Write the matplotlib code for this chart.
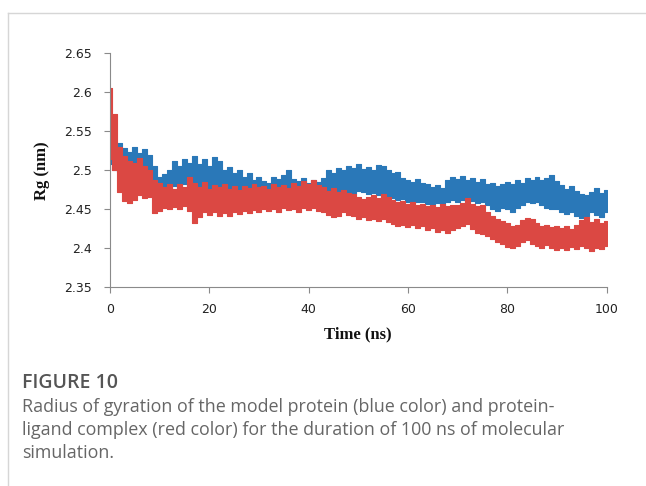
import matplotlib
matplotlib.use('Agg')
import matplotlib.pyplot as plt
from matplotlib.lines import Line2D
import numpy as np

# time in ns, envelopes of the Rg trace (nm)
time_ns = list(range(0, 101))

protein_hi = [
    2.518, 2.528, 2.535, 2.528, 2.524, 2.530, 2.522, 2.527, 2.520, 2.505,
    2.492, 2.495, 2.500, 2.512, 2.506, 2.515, 2.510, 2.518, 2.508, 2.514,
    2.506, 2.517, 2.512, 2.500, 2.504, 2.496, 2.500, 2.492, 2.497, 2.488,
    2.492, 2.486, 2.484, 2.492, 2.489, 2.494, 2.500, 2.489, 2.486, 2.490,
    2.484, 2.488, 2.485, 2.490, 2.500, 2.497, 2.503, 2.500, 2.506, 2.503,
    2.508, 2.502, 2.504, 2.500, 2.507, 2.505, 2.500, 2.496, 2.498, 2.490,
    2.488, 2.485, 2.489, 2.484, 2.482, 2.478, 2.481, 2.477, 2.488, 2.491,
    2.489, 2.493, 2.487, 2.490, 2.485, 2.489, 2.483, 2.484, 2.480, 2.483,
    2.485, 2.482, 2.487, 2.484, 2.490, 2.488, 2.492, 2.487, 2.490, 2.494,
    2.486, 2.481, 2.476, 2.480, 2.474, 2.470, 2.468, 2.472, 2.477, 2.471,
    2.475]

protein_lo = [
    2.508, 2.500, 2.498, 2.495, 2.492, 2.494, 2.490, 2.492, 2.488, 2.478,
    2.470, 2.472, 2.474, 2.480, 2.476, 2.482, 2.478, 2.484, 2.476, 2.480,
    2.475, 2.482, 2.478, 2.470, 2.472, 2.468, 2.470, 2.466, 2.468, 2.462,
    2.465, 2.462, 2.460, 2.465, 2.463, 2.466, 2.470, 2.463, 2.461, 2.464,
    2.460, 2.462, 2.460, 2.463, 2.468, 2.466, 2.470, 2.468, 2.472, 2.470,
    2.474, 2.472, 2.470, 2.471, 2.468, 2.466, 2.467, 2.465, 2.462, 2.463,
    2.460, 2.461, 2.459, 2.460, 2.457, 2.456, 2.458, 2.455, 2.460, 2.462,
    2.460, 2.462, 2.459, 2.461, 2.458, 2.460, 2.455, 2.451, 2.448, 2.452,
    2.450, 2.447, 2.452, 2.455, 2.460, 2.458, 2.460, 2.455, 2.452, 2.450,
    2.451, 2.447, 2.444, 2.446, 2.441, 2.439, 2.442, 2.447, 2.443, 2.440,
    2.446]

complex_hi = [
    2.605, 2.572, 2.530, 2.518, 2.512, 2.510, 2.516, 2.506, 2.500, 2.487,
    2.484, 2.478, 2.483, 2.476, 2.482, 2.478, 2.492, 2.484, 2.478, 2.485,
    2.476, 2.481, 2.478, 2.483, 2.476, 2.480, 2.475, 2.480, 2.477, 2.482,
    2.478, 2.480, 2.476, 2.482, 2.478, 2.481, 2.477, 2.484, 2.480, 2.486,
    2.482, 2.487, 2.481, 2.478, 2.474, 2.477, 2.472, 2.475, 2.471, 2.470,
    2.466, 2.463, 2.466, 2.468, 2.465, 2.469, 2.466, 2.462, 2.459, 2.461,
    2.457, 2.459, 2.455, 2.457, 2.454, 2.456, 2.453, 2.457, 2.454, 2.456,
    2.455, 2.458, 2.464, 2.457, 2.454, 2.456, 2.447, 2.442, 2.438, 2.435,
    2.432, 2.428, 2.430, 2.436, 2.439, 2.437, 2.432, 2.428, 2.430, 2.427,
    2.429, 2.426, 2.428, 2.425, 2.430, 2.436, 2.440, 2.434, 2.437, 2.432,
    2.435]

complex_lo = [
    2.515, 2.500, 2.472, 2.461, 2.458, 2.462, 2.468, 2.464, 2.466, 2.445,
    2.448, 2.452, 2.450, 2.453, 2.451, 2.454, 2.448, 2.432, 2.440, 2.446,
    2.443, 2.447, 2.442, 2.445, 2.441, 2.446, 2.444, 2.448, 2.445, 2.449,
    2.446, 2.450, 2.448, 2.451, 2.447, 2.452, 2.449, 2.451, 2.447, 2.452,
    2.449, 2.452, 2.448, 2.446, 2.443, 2.440, 2.442, 2.446, 2.443, 2.441,
    2.438, 2.440, 2.436, 2.438, 2.435, 2.438, 2.434, 2.431, 2.428, 2.430,
    2.427, 2.430, 2.426, 2.428, 2.424, 2.426, 2.421, 2.424, 2.420, 2.423,
    2.426, 2.429, 2.431, 2.425, 2.420, 2.418, 2.416, 2.412, 2.408, 2.405,
    2.402, 2.400, 2.403, 2.408, 2.410, 2.406, 2.403, 2.400, 2.404, 2.401,
    2.398, 2.401, 2.398, 2.402, 2.399, 2.403, 2.400, 2.397, 2.401, 2.399,
    2.403]

yticks = [2.35, 2.40, 2.45, 2.50, 2.55, 2.60, 2.65]
ytick_labels = ['2.35', '2.4', '2.45', '2.5', '2.55', '2.6', '2.65']
xticks = [0, 20, 40, 60, 80, 100]

caption_title = 'FIGURE 10'
caption_lines = [
    'Radius of gyration of the model protein (blue color) and protein-',
    'ligand complex (red color) for the duration of 100 ns of molecular',
    'simulation.',
]

W, H = 646, 486
fig = plt.figure(figsize=(W / 100, H / 100), dpi=100)
fig.patch.set_facecolor('white')

# page frame lines
fig.add_artist(Line2D([8 / W, 1], [1 - 13 / H, 1 - 13 / H], transform=fig.transFigure,
                      color='#d6d6d6', lw=1))
fig.add_artist(Line2D([8 / W, 8 / W], [0, 1 - 13 / H], transform=fig.transFigure,
                      color='#d6d6d6', lw=1))

ax = fig.add_axes([110 / W, 1 - 287.3 / H, (606.5 - 110) / W, (287.3 - 53.3) / H])

blue = '#2a78b8'
red = '#db4843'
ax.fill_between(time_ns, protein_lo, protein_hi, step='mid', color=blue, lw=0.8,
                edgecolor=blue)
ax.fill_between(time_ns, complex_lo, complex_hi, step='mid', color=red, lw=0.8,
                edgecolor=red)

ax.set_xlim(0, 100)
ax.set_ylim(2.35, 2.65)
ax.set_xticks(xticks)
ax.set_yticks(yticks)
ax.set_yticklabels(ytick_labels)

for side in ['top', 'right']:
    ax.spines[side].set_visible(False)
for side in ['left', 'bottom']:
    ax.spines[side].set_color('#8a8a8a')
    ax.spines[side].set_linewidth(0.8)
ax.tick_params(axis='both', colors='#8a8a8a', length=4, width=0.8, direction='out',
               labelsize=9, labelcolor='#222222')
ax.tick_params(axis='x', pad=7)
ax.tick_params(axis='y', pad=9)

ax.set_xlabel('Time (ns)', family='Liberation Serif', fontweight='bold', fontsize=12,
              color='#111111', labelpad=8)
ax.set_ylabel('Rg (nm)', family='Liberation Serif', fontweight='bold', fontsize=12,
              color='#111111', labelpad=10)

# caption
fig.text(22 / W, 1 - 383 / H, caption_title, family='Open Sans', fontsize=14,
         fontweight='semibold', color='#555555', va='center', ha='left')
for i, line in enumerate(caption_lines):
    fig.text(22 / W, 1 - (407 + 23 * i) / H, line, family='Open Sans', fontsize=12.9,
             color='#666666', va='center', ha='left')

fig.savefig('out.png', dpi=100)
